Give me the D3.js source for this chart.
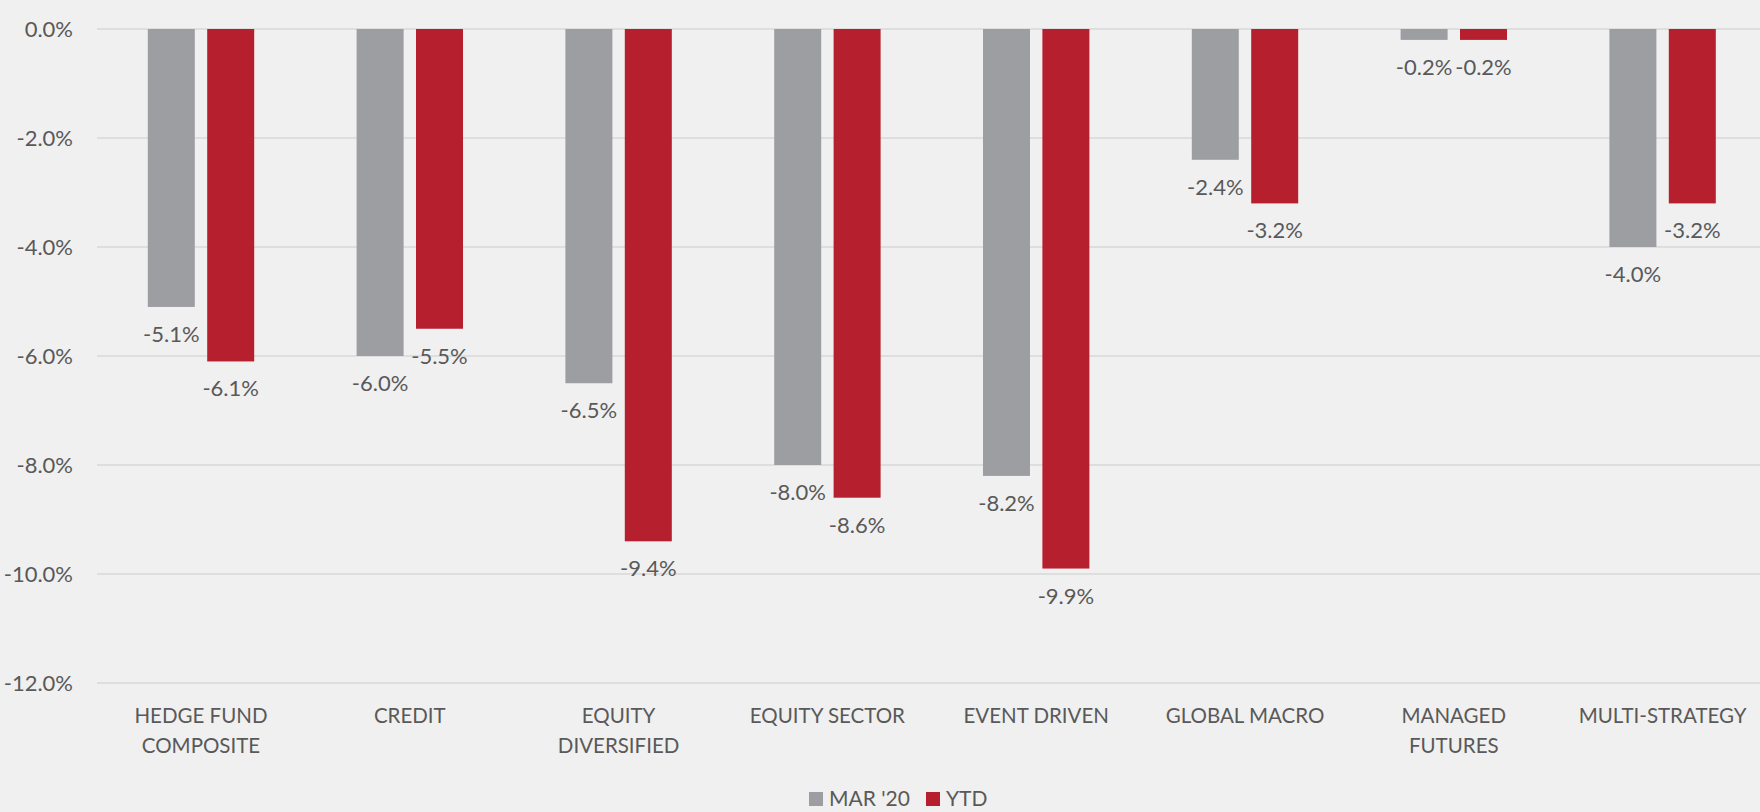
<!DOCTYPE html>
<html>
<head>
<meta charset="utf-8">
<script src="https://cdn.jsdelivr.net/npm/d3@7"></script>
<style>
  html, body { margin: 0; padding: 0; background: #f0f0f0; }
  svg { display: block; }
  text { font-family: "Source Sans Pro", Lato, "Noto Sans", sans-serif; fill: #595959; }
</style>
</head>
<body>
<svg id="chart" width="1760" height="812"></svg>
<script>
const categories = [
  ["HEDGE FUND", "COMPOSITE"],
  ["CREDIT"],
  ["EQUITY", "DIVERSIFIED"],
  ["EQUITY SECTOR"],
  ["EVENT DRIVEN"],
  ["GLOBAL MACRO"],
  ["MANAGED", "FUTURES"],
  ["MULTI-STRATEGY"]
];
const seriesNames = ["MAR '20", "YTD"];
const marValues = [-5.1, -6.0, -6.5, -8.0, -8.2, -2.4, -0.2, -4.0];
const ytdValues = [-6.1, -5.5, -9.4, -8.6, -9.9, -3.2, -0.2, -3.2];
const yTicks = [0, -2, -4, -6, -8, -10, -12];
const colors = ["#9d9ea2", "#b51f2e"];

const svg = d3.select("#chart");
const gridLeft = 97, gridRight = 1760, plotTop = 29, plotBottom = 683;
const bandLeft = 96.6, bandRight = 1767;

const loc = d3.formatLocale({ decimal: ".", thousands: ",", grouping: [3], currency: ["", ""], minus: "-" });
const fmt = v => loc.format(".1f")(v) + "%";

const catKeys = categories.map(c => c.join(" "));
const x = d3.scaleBand().domain(catKeys).range([bandLeft, bandRight]).paddingInner(0).paddingOuter(0);
const bw = x.bandwidth();
const xs = d3.scaleBand().domain(seriesNames)
  .range([bw / 2 - 53.2, bw / 2 + 53.2]).paddingInner(12.4 / 59.4).paddingOuter(0);
const y = d3.scaleLinear().domain([-12, 0]).range([plotBottom, plotTop]);

// gridlines
svg.append("g").selectAll("line").data(yTicks).join("line")
  .attr("x1", gridLeft).attr("x2", gridRight)
  .attr("y1", d => y(d)).attr("y2", d => y(d))
  .attr("stroke", "#d8d8d8").attr("stroke-width", 1.5);

// y axis labels
const yAxis = d3.axisLeft(y).tickValues(yTicks).tickFormat(fmt).tickSize(0).tickPadding(0);
const yg = svg.append("g").attr("transform", `translate(73,0)`).call(yAxis);
yg.attr("font-family", null).attr("font-size", null);
yg.select(".domain").remove();
yg.selectAll("text").attr("font-size", 22).attr("fill", "#595959");

const data = catKeys.map((k, i) => ({ key: k, lines: categories[i], vals: [marValues[i], ytdValues[i]] }));

const groups = svg.append("g").selectAll("g").data(data).join("g")
  .attr("transform", d => `translate(${x(d.key)},0)`);

groups.selectAll("rect").data(d => d.vals.map((v, j) => ({ s: seriesNames[j], v, j }))).join("rect")
  .attr("x", d => xs(d.s)).attr("width", xs.bandwidth())
  .attr("y", y(0)).attr("height", d => y(d.v) - y(0))
  .attr("fill", d => colors[d.j]);

groups.selectAll("text.val").data(d => d.vals.map((v, j) => ({ s: seriesNames[j], v, j }))).join("text")
  .attr("class", "val")
  .attr("x", d => xs(d.s) + xs.bandwidth() / 2)
  .attr("y", d => y(d.v) + 35)
  .attr("text-anchor", "middle").attr("font-size", 22)
  .text(d => fmt(d.v));

// category labels
const xl = svg.append("g").selectAll("text").data(data).join("text")
  .attr("x", d => x(d.key) + bw / 2).attr("y", 723)
  .attr("text-anchor", "middle").attr("font-size", 20.5);
xl.selectAll("tspan").data(d => d.lines).join("tspan")
  .attr("x", function () { return d3.select(this.parentNode).attr("x"); })
  .attr("dy", (d, i) => i === 0 ? 0 : 30)
  .text(d => d);

// legend
const legendX = [809, 926];
const lg = svg.append("g").selectAll("g").data(seriesNames).join("g")
  .attr("transform", (d, i) => `translate(${legendX[i]},792)`);
lg.append("rect").attr("width", 14).attr("height", 14).attr("fill", (d, i) => colors[i]);
lg.append("text").attr("x", 20).attr("y", 14).attr("font-size", 21).text(d => d);
</script>
</body>
</html>
